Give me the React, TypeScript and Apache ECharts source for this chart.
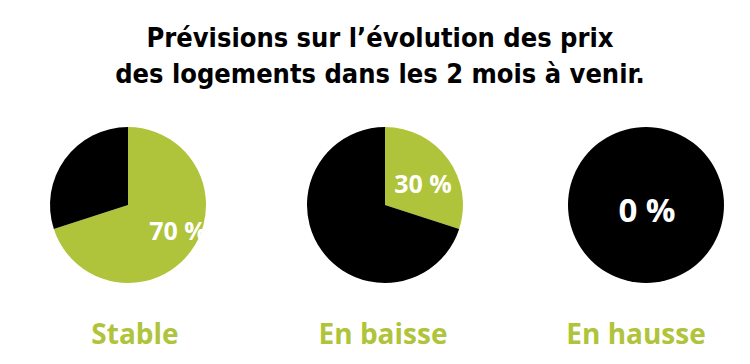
import React, { useEffect, useRef } from "react";
import * as echarts from "echarts";

const GREEN = "#afc43a";
const BLACK = "#000000";

const titleLines = ["Prévisions sur l’évolution des prix", "des logements dans les 2 mois à venir."];
const categories = ["Stable", "En baisse", "En hausse"];
const shareValues = [70, 30, 0];
const restValues = [30, 70, 100];

const centersX = [128, 385, 646];
const centerY = 205;
const radius = 78;
const labelShift = [
  [16, 0],
  [4, 3],
  [1, 4],
];
const labelSizes = [25, 25, 33];
const captionX = [130, 378, 631];

export default function App() {
  const ref = useRef<HTMLDivElement>(null);
  useEffect(() => {
    if (!ref.current) return;
    const chart = echarts.init(ref.current, undefined, { renderer: "svg" });
    const labelFont = "Open Sans";
    const series = categories.map((cat, i) => ({
      type: "pie",
      name: cat,
      center: [centersX[i], centerY],
      radius: [0, radius],
      startAngle: 90,
      clockwise: true,
      silent: true,
      avoidLabelOverlap: false,
      labelLine: { show: false },
      itemStyle: { borderWidth: 0 },
      emphasis: { disabled: true },
      labelLayout: { dx: labelShift[i][0], dy: labelShift[i][1] },
      data: [
        {
          value: shareValues[i],
          name: cat,
          itemStyle: { color: GREEN },
          label: {
            show: true,
            position: shareValues[i] === 0 ? "center" : "inside",
            formatter: () => `${shareValues[i]} %`,
            color: "#ffffff",
            fontFamily: labelFont,
            fontWeight: "bold",
            fontSize: labelSizes[i],
          },
        },
        {
          value: restValues[i],
          name: "autre",
          itemStyle: { color: BLACK },
          label: { show: false },
        },
      ],
    }));
    chart.setOption({
      animation: false,
      title: [
        {
          text: titleLines.join("\n"),
          left: 375,
          top: 14,
          textAlign: "center",
          textStyle: {
            fontFamily: "DejaVu Sans Condensed",
            fontWeight: "bold",
            fontSize: 27,
            lineHeight: 36,
            color: "#000",
          },
        },
        ...categories.map((cat, i) => ({
          text: cat,
          left: captionX[i],
          top: 314,
          textAlign: "center",
          textStyle: {
            fontFamily: labelFont,
            fontWeight: "bold",
            fontSize: 28,
            color: GREEN,
          },
        })),
      ],
      series,
    });
    return () => chart.dispose();
  }, []);
  return <div ref={ref} style={{ width: 750, height: 364, position: "absolute", left: 0, top: 0 }} />;
}
